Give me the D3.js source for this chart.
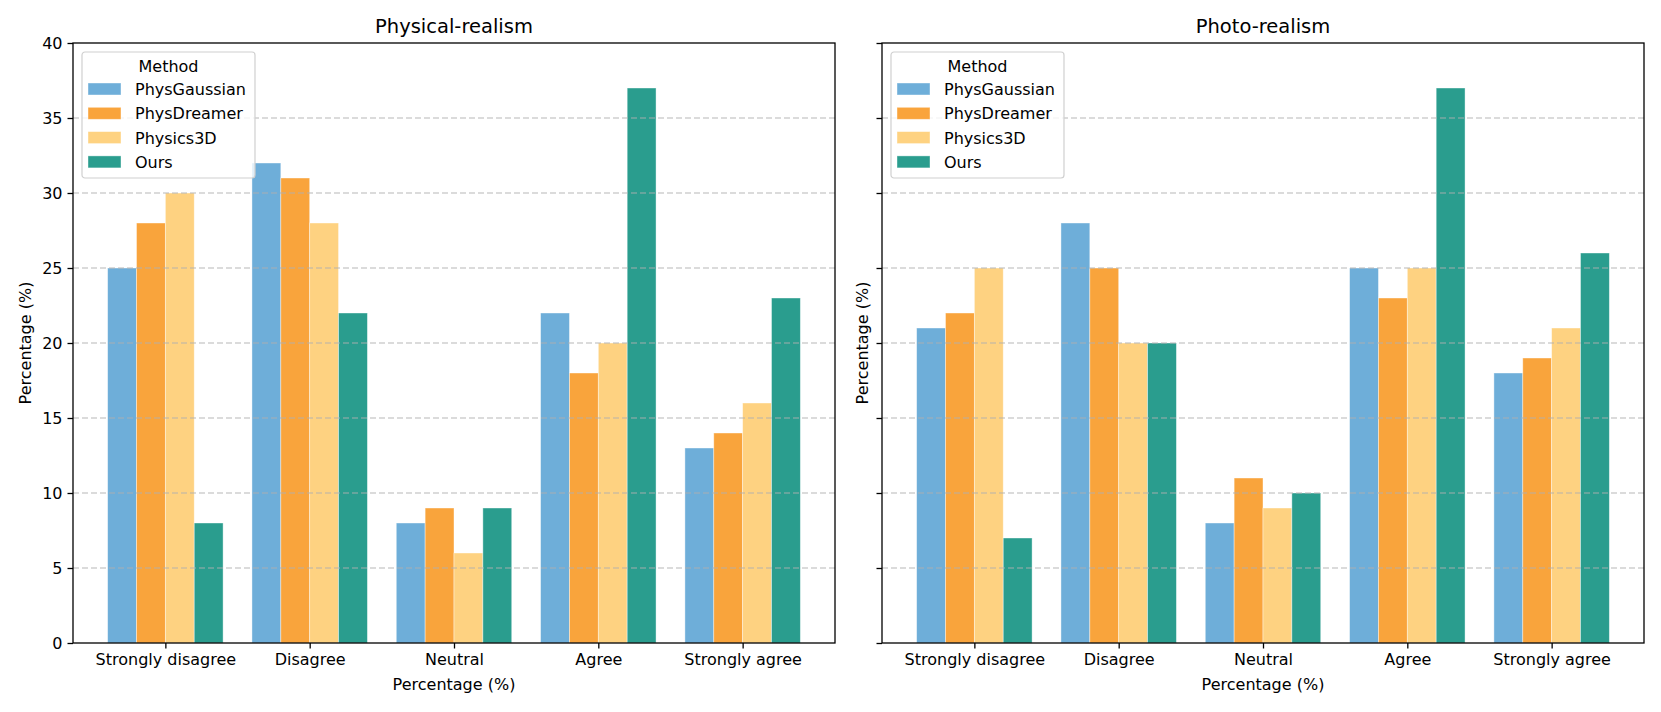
<!DOCTYPE html>
<html>
<head>
<meta charset="utf-8">
<script src="https://cdn.jsdelivr.net/npm/d3@7"></script>
<style>
  body { margin: 0; background: #fff; }
  text { font-family: "DejaVu Sans", sans-serif; fill: #000; }
</style>
</head>
<body>
<script>
// data
var categories = ["Strongly disagree", "Disagree", "Neutral", "Agree", "Strongly agree"];
var methods = ["PhysGaussian", "PhysDreamer", "Physics3D", "Ours"];
var colors = ["#6eaed9", "#f9a43c", "#fed281", "#2a9d8e"];
var yTicks = [0, 5, 10, 15, 20, 25, 30, 35, 40];

// values per method, one per category
var physicalGaussian = [25, 32, 8, 22, 13];
var physicalDreamer  = [28, 31, 9, 18, 14];
var physical3D       = [30, 28, 6, 20, 16];
var physicalOurs     = [8, 22, 9, 37, 23];

var photoGaussian = [21, 28, 8, 25, 18];
var photoDreamer  = [22, 25, 11, 23, 19];
var photo3D       = [25, 20, 9, 25, 21];
var photoOurs     = [7, 20, 10, 37, 26];

var panels = [
  {title: "Physical-realism", series: [physicalGaussian, physicalDreamer, physical3D, physicalOurs], left: 73, yLabels: true},
  {title: "Photo-realism", series: [photoGaussian, photoDreamer, photo3D, photoOurs], left: 882, yLabels: false}
];

var W = 1661, H = 712;
var axTop = 43, axBottom = 643, axW = 762;

var svg = d3.select("body").append("svg")
    .attr("width", W)
    .attr("height", H);

var y = d3.scaleLinear().domain([0, 40]).range([axBottom, axTop]);

panels.forEach(function(p) {
  // matplotlib style: bars at 0..4, width 0.2 each, 5% padding
  var x = d3.scaleLinear().domain([-0.64, 4.64]).range([p.left, p.left + axW]);
  var g = svg.append("g");
  var bw = 0.2;

  // bars
  p.series.forEach(function(vals, si) {
    g.selectAll(null)
      .data(vals)
      .enter().append("rect")
      .attr("x", function(d, i) { return x(i - 0.4 + si * bw); })
      .attr("width", x(bw) - x(0))
      .attr("y", function(d) { return y(d); })
      .attr("height", function(d) { return axBottom - y(d); })
      .attr("fill", colors[si])
      .attr("stroke", "#fff")
      .attr("stroke-opacity", 0.5)
      .attr("stroke-width", 0.8);
  });

  // grid on top of bars
  g.selectAll(null)
    .data(yTicks.slice(1, -1))
    .enter().append("line")
    .attr("x1", p.left).attr("x2", p.left + axW)
    .attr("y1", function(d) { return y(d); })
    .attr("y2", function(d) { return y(d); })
    .attr("stroke", "#b0b0b0")
    .attr("stroke-opacity", 0.6)
    .attr("stroke-width", 1.3)
    .attr("stroke-dasharray", "6,3");

  // axes
  var yAxis = d3.axisLeft(y).tickValues(yTicks).tickSize(5.5).tickPadding(5);
  if (!p.yLabels) yAxis.tickFormat("");
  var ya = g.append("g")
    .attr("transform", "translate(" + p.left + ",0)")
    .call(yAxis);
  ya.select(".domain").remove();
  ya.selectAll("text").style("font-size", "16px").style("font-family", "DejaVu Sans");
  ya.selectAll("line").attr("stroke-width", 1.3);

  var xAxis = d3.axisBottom(x).tickValues(d3.range(categories.length))
    .tickFormat(function(i) { return categories[i]; })
    .tickSize(5.5).tickPadding(5);
  var xa = g.append("g")
    .attr("transform", "translate(0," + axBottom + ")")
    .call(xAxis);
  xa.select(".domain").remove();
  xa.selectAll("text").style("font-size", "16px").style("font-family", "DejaVu Sans");
  xa.selectAll("line").attr("stroke-width", 1.3);

  // frame
  g.append("rect")
    .attr("x", p.left).attr("y", axTop)
    .attr("width", axW).attr("height", axBottom - axTop)
    .attr("fill", "none")
    .attr("stroke", "#000")
    .attr("stroke-width", 1.3);

  // title and labels
  g.append("text")
    .attr("x", p.left + axW / 2).attr("y", 33)
    .attr("text-anchor", "middle")
    .style("font-size", "19.5px")
    .text(p.title);

  g.append("text")
    .attr("x", p.left + axW / 2).attr("y", 690)
    .attr("text-anchor", "middle")
    .style("font-size", "16px")
    .text("Percentage (%)");

  var ylx = p.yLabels ? 31 : p.left - 14;
  g.append("text")
    .attr("transform", "translate(" + ylx + "," + ((axTop + axBottom) / 2) + ") rotate(-90)")
    .attr("text-anchor", "middle")
    .style("font-size", "16px")
    .text("Percentage (%)");

  // legend
  var lx = p.left + 9, ly = 52;
  var lg = g.append("g").attr("transform", "translate(" + lx + "," + ly + ")");
  lg.append("rect")
    .attr("width", 173).attr("height", 126)
    .attr("rx", 3)
    .attr("fill", "#fff").attr("fill-opacity", 0.8)
    .attr("stroke", "#d0d0d0").attr("stroke-width", 1.2);
  lg.append("text")
    .attr("x", 86.5).attr("y", 20)
    .attr("text-anchor", "middle")
    .style("font-size", "16px")
    .text("Method");
  methods.forEach(function(m, i) {
    lg.append("rect")
      .attr("x", 6).attr("y", 31 + i * 24.3)
      .attr("width", 33).attr("height", 12)
      .attr("fill", colors[i])
      .attr("stroke", "#fff").attr("stroke-opacity", 0.5).attr("stroke-width", 0.8);
    lg.append("text")
      .attr("x", 53).attr("y", 43 + i * 24.3)
      .style("font-size", "16px")
      .text(m);
  });
});
</script>
</body>
</html>
